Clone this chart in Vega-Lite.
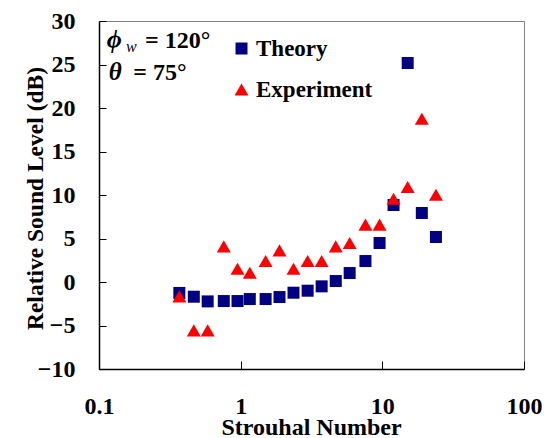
{
  "$schema": "https://vega.github.io/schema/vega-lite/v6.json",
  "width": 425,
  "height": 348,
  "autosize": "none",
  "padding": {"left": 99, "top": 21, "right": 20, "bottom": 69},
  "background": "white",
  "config": {
    "view": {"stroke": "#808080", "strokeWidth": 1},
    "font": "Liberation Serif"
  },
  "encoding": {
    "x": {
      "field": "St",
      "type": "quantitative",
      "scale": {"type": "log", "domain": [0.1, 100]},
      "axis": {
        "values": [0.1, 1, 10, 100],
        "format": "~g",
        "grid": false,
        "tickSize": -8,
        "tickColor": "black",
        "domainColor": "black",
        "domainWidth": 1.5,
        "labelFont": "Liberation Serif",
        "labelFontWeight": "bold",
        "labelFontSize": 24,
        "labelColor": "black",
        "labelBaseline": "alphabetic",
        "labelPadding": 52,
        "labelFlush": false,
        "labelOverlap": false,
        "title": "Strouhal Number",
        "titleFont": "Liberation Serif",
        "titleFontWeight": "bold",
        "titleFontSize": 24,
        "titleColor": "black",
        "titleBaseline": "alphabetic",
        "titleX": 212,
        "titleY": 65
      }
    },
    "y": {
      "field": "Level",
      "type": "quantitative",
      "scale": {"domain": [-10, 30]},
      "axis": {
        "values": [-10, -5, 0, 5, 10, 15, 20, 25, 30],
        "grid": false,
        "tickSize": -7,
        "tickColor": "black",
        "domainColor": "black",
        "domainWidth": 1.5,
        "labelFont": "Liberation Serif",
        "labelFontWeight": "bold",
        "labelFontSize": 24,
        "labelColor": "black",
        "labelBaseline": "middle",
        "labelPadding": 31,
        "labelFlush": false,
        "labelOverlap": false,
        "title": "Relative Sound Level (dB)",
        "titleFont": "Liberation Serif",
        "titleFontWeight": "bold",
        "titleFontSize": 23.5,
        "titleColor": "black",
        "titleBaseline": "alphabetic",
        "titleAngle": 270,
        "titleX": -57,
        "titleY": 177
      }
    }
  },
  "layer": [
    {
      "data": {
        "values": [
          {"St": 0.369, "Level": -1.26, "Series": "Theory"},
          {"St": 0.467, "Level": -1.69, "Series": "Theory"},
          {"St": 0.585, "Level": -2.23, "Series": "Theory"},
          {"St": 0.76, "Level": -2.19, "Series": "Theory"},
          {"St": 0.95, "Level": -2.19, "Series": "Theory"},
          {"St": 1.16, "Level": -1.96, "Series": "Theory"},
          {"St": 1.5, "Level": -1.96, "Series": "Theory"},
          {"St": 1.88, "Level": -1.73, "Series": "Theory"},
          {"St": 2.36, "Level": -1.23, "Series": "Theory"},
          {"St": 2.97, "Level": -1.0, "Series": "Theory"},
          {"St": 3.73, "Level": -0.5, "Series": "Theory"},
          {"St": 4.69, "Level": 0.11, "Series": "Theory"},
          {"St": 5.88, "Level": 1.03, "Series": "Theory"},
          {"St": 7.6, "Level": 2.41, "Series": "Theory"},
          {"St": 9.56, "Level": 4.48, "Series": "Theory"},
          {"St": 12.0, "Level": 8.85, "Series": "Theory"},
          {"St": 15.1, "Level": 25.17, "Series": "Theory"},
          {"St": 19.0, "Level": 7.93, "Series": "Theory"},
          {"St": 23.9, "Level": 5.17, "Series": "Theory"},
          {"St": 0.369, "Level": -1.65, "Series": "Experiment"},
          {"St": 0.467, "Level": -5.56, "Series": "Experiment"},
          {"St": 0.585, "Level": -5.56, "Series": "Experiment"},
          {"St": 0.76, "Level": 4.09, "Series": "Experiment"},
          {"St": 0.95, "Level": 1.53, "Series": "Experiment"},
          {"St": 1.16, "Level": 1.07, "Series": "Experiment"},
          {"St": 1.5, "Level": 2.41, "Series": "Experiment"},
          {"St": 1.88, "Level": 3.63, "Series": "Experiment"},
          {"St": 2.36, "Level": 1.53, "Series": "Experiment"},
          {"St": 2.97, "Level": 2.41, "Series": "Experiment"},
          {"St": 3.73, "Level": 2.41, "Series": "Experiment"},
          {"St": 4.69, "Level": 4.09, "Series": "Experiment"},
          {"St": 5.88, "Level": 4.48, "Series": "Experiment"},
          {"St": 7.6, "Level": 6.59, "Series": "Experiment"},
          {"St": 9.56, "Level": 6.59, "Series": "Experiment"},
          {"St": 12.0, "Level": 9.57, "Series": "Experiment"},
          {"St": 15.1, "Level": 10.92, "Series": "Experiment"},
          {"St": 19.0, "Level": 18.77, "Series": "Experiment"},
          {"St": 23.9, "Level": 10.03, "Series": "Experiment"}
        ]
      },
      "mark": {"type": "point", "filled": true, "opacity": 1},
      "encoding": {
        "color": {
          "field": "Series",
          "type": "nominal",
          "scale": {"domain": ["Theory", "Experiment"], "range": ["#000080", "#FF0000"]},
          "legend": {
            "orient": "none",
            "legendX": 131,
            "legendY": 16,
            "title": null,
            "labelFont": "Liberation Serif",
            "labelFontWeight": "bold",
            "labelFontSize": 23,
            "labelColor": "black",
            "symbolSize": 160,
            "symbolOpacity": 1,
            "rowPadding": 17,
            "labelOffset": 3
          }
        },
        "shape": {
          "field": "Series",
          "type": "nominal",
          "scale": {"domain": ["Theory", "Experiment"], "range": ["square", "triangle-up"]}
        },
        "size": {
          "field": "Series",
          "type": "nominal",
          "scale": {"domain": ["Theory", "Experiment"], "range": [144, 196]},
          "legend": null
        }
      }
    },
    {
      "data": {"values": [{"St": 0.1133, "Level": 26.93, "t": "ϕ"}]},
      "mark": {"type": "text", "align": "left", "baseline": "alphabetic", "font": "Liberation Serif", "fontWeight": "bold", "fontStyle": "italic", "fontSize": 26, "color": "black"},
      "encoding": {"text": {"field": "t"}}
    },
    {
      "data": {"values": [{"St": 0.1133, "Level": 23.22, "t": "θ"}]},
      "mark": {"type": "text", "align": "left", "baseline": "alphabetic", "dx": 2, "font": "Liberation Serif", "fontWeight": "bold", "fontStyle": "italic", "fontSize": 25, "color": "black"},
      "encoding": {"text": {"field": "t"}}
    },
    {
      "data": {"values": [{"St": 0.1133, "Level": 26.93, "t": "w"}]},
      "mark": {"type": "text", "align": "left", "baseline": "alphabetic", "dx": 19.3, "dy": 4, "font": "Liberation Serif", "fontStyle": "italic", "fontSize": 16, "color": "black"},
      "encoding": {"text": {"field": "t"}}
    },
    {
      "data": {"values": [{"St": 0.1133, "Level": 26.93, "t": "= 120°"}]},
      "mark": {"type": "text", "align": "left", "baseline": "alphabetic", "dx": 38.3, "font": "Liberation Serif", "fontWeight": "bold", "fontSize": 24, "color": "black"},
      "encoding": {"text": {"field": "t"}}
    },
    {
      "data": {"values": [{"St": 0.1133, "Level": 23.22, "t": "= 75°"}]},
      "mark": {"type": "text", "align": "left", "baseline": "alphabetic", "dx": 26.6, "font": "Liberation Serif", "fontWeight": "bold", "fontSize": 24, "color": "black"},
      "encoding": {"text": {"field": "t"}}
    }
  ]
}
